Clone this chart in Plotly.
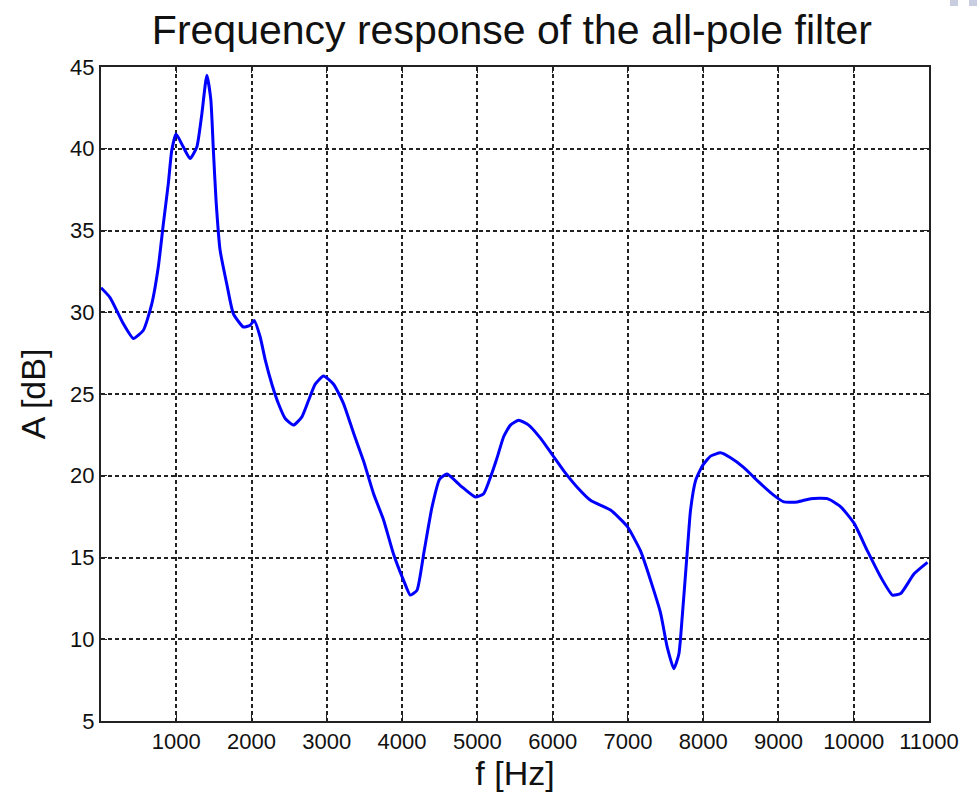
import plotly.graph_objects as go

# Frequency (Hz) and amplitude (dB)
freq = [0, 120, 297, 430, 563, 674, 762, 828, 895, 940, 997, 1094, 1184, 1273, 1339, 1406,
        1459, 1493, 1529, 1582, 1672, 1759, 1892, 1981, 2035, 2114, 2181, 2270, 2358, 2447,
        2557, 2669, 2757, 2846, 2956, 3090, 3223, 3356, 3488, 3621, 3754, 3887, 4020, 4109,
        4198, 4286, 4398, 4499, 4597, 4774, 4973, 5084, 5173, 5262, 5350, 5439, 5549, 5682,
        5838, 5993, 6148, 6326, 6503, 6769, 6991, 7168, 7301, 7434, 7523, 7610, 7677, 7722,
        7789, 7832, 7899, 7988, 8098, 8231, 8364, 8541, 8719, 8940, 9073, 9251, 9428, 9650,
        9827, 10004, 10182, 10359, 10515, 10625, 10802, 10980]
amp = [31.5, 30.9, 29.3, 28.4, 28.9, 30.5, 32.8, 35.4, 37.9, 39.9, 40.9, 40.1, 39.4, 40.1, 42.1, 44.5,
       43.0, 39.9, 36.8, 33.8, 31.7, 29.9, 29.1, 29.2, 29.5, 28.5, 27.1, 25.6, 24.4, 23.5,
       23.1, 23.6, 24.6, 25.6, 26.1, 25.6, 24.4, 22.6, 20.9, 18.9, 17.3, 15.2, 13.6, 12.7,
       13.0, 15.2, 18.1, 19.8, 20.1, 19.4, 18.7, 18.9, 19.9, 21.1, 22.4, 23.1, 23.4, 23.1,
       22.3, 21.3, 20.3, 19.3, 18.5, 17.9, 16.9, 15.4, 13.6, 11.6, 9.5, 8.2, 9.1, 11.4,
       15.4, 17.9, 19.7, 20.6, 21.2, 21.4, 21.1, 20.5, 19.7, 18.8, 18.4, 18.4, 18.6, 18.6,
       18.1, 17.1, 15.4, 13.8, 12.7, 12.8, 14.0, 14.7]

x_ticks = [1000, 2000, 3000, 4000, 5000, 6000, 7000, 8000, 9000, 10000, 11000]
y_ticks = [5, 10, 15, 20, 25, 30, 35, 40, 45]

font_family = "Liberation Sans, Arial, sans-serif"

fig = go.Figure()
fig.add_trace(go.Scatter(
    x=freq, y=amp, mode="lines",
    line=dict(color="#0000FF", width=3, shape="spline", smoothing=0.5),
    showlegend=False, hoverinfo="skip",
))

axis_common = dict(
    showline=True, linecolor="#222222", linewidth=2, mirror="allticks",
    ticks="inside", ticklen=6, tickcolor="#222222", tickwidth=1,
    showgrid=True, gridcolor="#222222", gridwidth=1.5, griddash="4px,3px",
    zeroline=False,
    tickfont=dict(family=font_family, size=22, color="#111111"),
)

L, R, T, B = 101, 48, 67, 78
PW, PH = 977 - L - R, 799 - T - B


def px_x(p):
    return (p - L) / PW


def px_y(p):
    return (799 - B - p) / PH


fig.update_layout(
    width=977, height=799,
    paper_bgcolor="white", plot_bgcolor="white",
    margin=dict(l=L, r=R, t=T, b=B),
    title=dict(text="Frequency response of the all-pole filter",
               x=0.524, xanchor="center", y=1 - 30 / 799, yanchor="middle",
               font=dict(family=font_family, size=41, color="#111111")),
    xaxis=dict(range=[0, 11000], tickvals=x_ticks, ticktext=[str(v) for v in x_ticks],
               title=dict(text="f [Hz]", standoff=8,
                          font=dict(family=font_family, size=34, color="#111111")),
               **axis_common),
    yaxis=dict(range=[5, 45], tickvals=y_ticks, ticktext=[str(v) for v in y_ticks],
               title=dict(text="A [dB]", standoff=14,
                          font=dict(family=font_family, size=34, color="#111111")),
               **axis_common),
    shapes=[
        dict(type="rect", xref="paper", yref="paper",
             x0=px_x(950), x1=px_x(958), y0=px_y(6), y1=px_y(0),
             line=dict(width=0), fillcolor="#c9cde0", layer="above"),
        dict(type="rect", xref="paper", yref="paper",
             x0=px_x(969), x1=px_x(977), y0=px_y(6), y1=px_y(0),
             line=dict(width=0), fillcolor="#c9cde0", layer="above"),
    ],
)

fig.write_html("out.html")
